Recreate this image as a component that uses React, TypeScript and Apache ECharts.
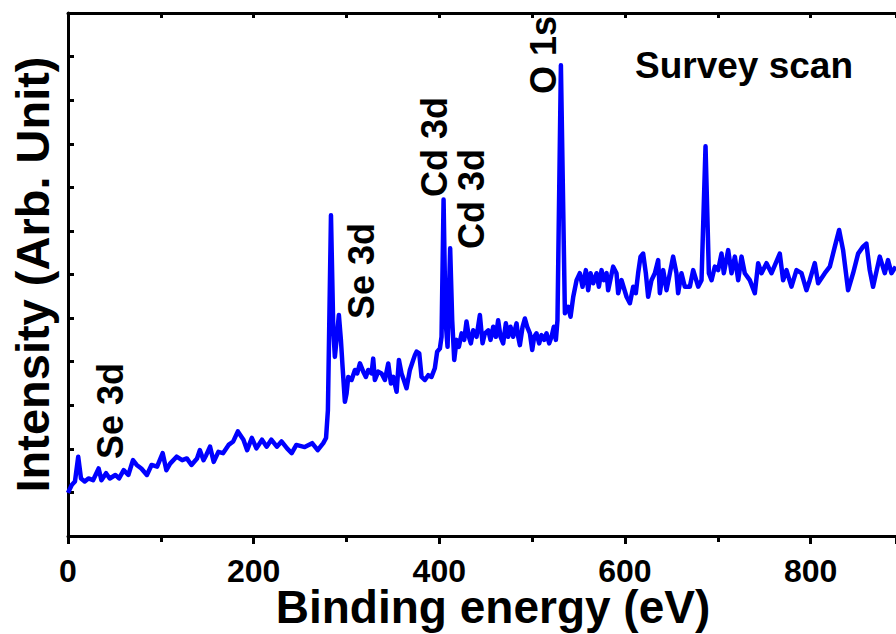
import React, { useEffect, useRef } from "react";
import * as echarts from "echarts";

// Binding energy (eV)
const energy: number[] = [
  0, 4, 7.5, 11, 14, 18, 22, 27, 33, 36, 41, 45, 51, 55, 60, 65, 70, 74, 79, 85,
  90, 96, 102, 106, 110, 117, 123, 128, 133, 139, 142, 146, 149, 153, 157, 162, 167, 173, 178, 183,
  189, 193, 198, 203, 209, 214, 219, 225, 230, 236, 241, 246, 255, 263, 269, 275, 278, 280,
  283.3, 285.8, 287.5, 289.3, 291.8, 294.0, 295.8, 298.3, 300.1, 301.9, 305.5, 309.1, 311.6, 314.5, 318.1, 320.9,
  323.4, 327.0, 328.8, 330.6, 334.2, 337.8, 341.4, 345.0, 347.9, 350.4, 354.0, 356.5, 359.3, 361.8, 364.7, 368.3,
  371.9, 373.7, 375.5, 378.4, 380.9, 384.5, 388.1, 391.6, 395.2, 397.7, 400.6, 402.4, 404.6, 406.7, 408.9, 411.7,
  413.9, 416.1, 418.6, 421.1, 424.0, 426.8, 429.3, 431.9, 434.0, 436.5, 440.1, 443.7, 446.6, 449.1, 452.7, 455.2,
  458.1, 460.9, 463.4, 466.0, 468.8, 471.7, 474.2, 476.7, 479.6, 483.2, 485.0, 486.8, 489.7, 492.2, 494.7, 497.6,
  500.1, 502.2, 504.7, 507.6, 510.1, 513.0, 515.5, 518.4, 520.9, 523.4, 525.6, 527.3, 531.0,
  535.3, 538.9, 541.4, 544.3, 547.9, 551.4, 554.3, 557.9, 560.4, 562.9, 565.8, 569.4, 571.9, 574.8, 577.3, 580.2,
  581.9, 587.3, 590.9, 592.7, 596.3, 601.7, 605.3, 608.9, 611.7, 614.2, 616.8, 619.6, 622.5, 625.0, 628.6, 632.2,
  635.8, 637.6, 641.2, 644.8, 651.9, 655.5, 657.3, 660.9, 664.5, 669.9, 673.5, 678.9, 682.5, 686.8, 690.4, 693.3,
  696.8, 700.4, 704.0, 706.5, 711.2, 714.8, 718.4, 722.0, 725.6, 729.1, 734.5, 739.9, 743.5, 747.1, 752.5, 757.9,
  766.8, 770.4, 774.0, 779.4, 784.8, 790.2, 795.5, 799.1, 804.5, 808.1, 815.3, 820.7, 826.1, 830.7, 835.0, 840.4,
  845.8, 851.2, 856.5, 860.1, 863.7, 867.3, 874.5, 879.9, 883.4, 887.1, 891.7
];

// Intensity (arb. units) at each binding energy above
const intensity: number[] = [
  0.99, 1.17, 1.25, 1.82, 1.32, 1.25, 1.32, 1.28, 1.55, 1.28, 1.44, 1.32, 1.40, 1.32, 1.51, 1.40, 1.74, 1.63, 1.55, 1.40,
  1.63, 1.59, 1.90, 1.51, 1.66, 1.82, 1.74, 1.78, 1.63, 1.78, 1.97, 1.74, 1.86, 2.05, 1.70, 1.93, 1.90, 2.09, 2.17, 2.40,
  2.21, 1.97, 2.25, 2.01, 2.21, 2.05, 2.21, 2.05, 2.17, 2.01, 1.90, 2.09, 2.04, 2.13, 1.97, 2.13, 2.25, 2.89,
  7.36, 4.72, 4.11, 4.50, 5.07, 4.50, 3.88, 3.08, 3.27, 3.65, 3.58, 3.81, 3.73, 3.96, 3.77, 3.65,
  3.81, 3.73, 4.07, 3.58, 3.77, 3.73, 3.58, 3.96, 3.50, 3.65, 3.31, 4.04, 3.73, 3.58, 3.39, 3.81,
  4.04, 4.15, 4.23, 4.19, 3.65, 3.58, 3.69, 3.65, 3.85, 4.23, 4.30, 4.57, 7.72, 4.95, 4.34, 6.60,
  4.95, 4.04, 4.50, 4.34, 4.65, 4.50, 4.92, 4.57, 4.42, 4.72, 4.57, 5.07, 4.42, 4.65, 4.72, 4.50,
  4.80, 4.57, 4.95, 4.57, 4.42, 4.88, 4.57, 4.80, 4.57, 4.88, 4.57, 4.38, 4.80, 4.99, 4.80, 4.65,
  4.27, 4.57, 4.65, 4.42, 4.61, 4.50, 4.65, 4.42, 4.57, 4.80, 4.50, 4.95, 10.80,
  5.11, 5.26, 5.03, 5.49, 5.87, 6.03, 5.72, 6.10, 5.64, 6.03, 5.80, 6.03, 5.72, 6.10, 5.87, 6.03,
  5.64, 6.18, 6.03, 5.57, 5.87, 5.49, 5.34, 5.72, 5.57, 6.03, 6.41, 6.48, 6.03, 5.49, 5.87, 6.03,
  6.33, 5.57, 6.10, 5.64, 6.41, 6.03, 5.57, 6.03, 5.72, 5.72, 6.10, 5.72, 5.87, 8.94, 6.03, 5.87,
  6.18, 6.10, 6.48, 6.03, 6.56, 6.03, 6.41, 5.87, 6.41, 6.03, 5.87, 5.57, 6.26, 6.03, 6.26, 6.03,
  6.48, 5.87, 6.10, 5.72, 6.10, 6.03, 5.64, 5.87, 6.26, 5.80, 6.03, 6.18, 6.64, 7.02, 6.56, 5.64,
  6.03, 6.48, 6.64, 6.71, 6.10, 5.72, 6.41, 6.03, 6.33, 6.03, 6.18
];

const xTickLabels: string[] = ["0", "200", "400", "600", "800"];

const FONT = "'Liberation Sans', Arial, sans-serif";

export default function App() {
  const ref = useRef<HTMLDivElement>(null);
  useEffect(() => {
    if (!ref.current) return;
    const chart = echarts.init(ref.current, null, { renderer: "svg" });
    const data = energy.map((e, i) => [e, intensity[i]]);
    const labelStyle = {
      font: `bold 36px ${FONT}`,
      fill: "#000",
      align: "center",
      verticalAlign: "middle",
    };
    chart.setOption({
      animation: false,
      backgroundColor: "#fff",
      grid: {
        left: 68,
        right: 0,
        top: 13,
        bottom: 98,
        containLabel: false,
        outerBoundsMode: "none",
      },
      xAxis: [
        {
          type: "value",
          position: "bottom",
          min: 0,
          max: 892,
          interval: 200,
          name: "Binding energy (eV)",
          nameLocation: "middle",
          nameGap: 49,
          nameMoveOverlap: false,
          nameTextStyle: {
            fontFamily: FONT,
            fontWeight: "bold",
            fontSize: 46,
            lineHeight: 44,
            color: "#000",
            padding: [0, 0, 0, 22],
          },
          axisLine: { show: true, lineStyle: { color: "#000", width: 3 } },
          axisTick: { show: true, inside: false, length: 8, lineStyle: { color: "#000", width: 3 } },
          minorTick: { show: true, splitNumber: 2, length: 6, lineStyle: { color: "#000", width: 3 } },
          axisLabel: {
            show: true,
            margin: 22,
            fontFamily: FONT,
            fontWeight: "bold",
            fontSize: 32,
            lineHeight: 26,
            color: "#000",
            formatter: (v: number) => {
              const s = String(Math.round(v));
              return xTickLabels.indexOf(s) >= 0 ? s : "";
            },
          },
          splitLine: { show: false },
          minorSplitLine: { show: false },
        },
        {
          type: "value",
          position: "top",
          min: 0,
          max: 892,
          interval: 100,
          axisLine: { show: true, lineStyle: { color: "#000", width: 3 } },
          axisTick: { show: true, inside: true, length: 5, lineStyle: { color: "#000", width: 3 } },
          axisLabel: { show: false },
          splitLine: { show: false },
        },
      ],
      yAxis: {
        type: "value",
        min: 0,
        max: 12,
        interval: 1,
        name: "Intensity (Arb. Unit)",
        nameLocation: "middle",
        nameGap: 12,
        nameRotate: 90,
        nameMoveOverlap: false,
        nameTextStyle: { fontFamily: FONT, fontWeight: "bold", fontSize: 47, color: "#000" },
        axisLine: { show: true, lineStyle: { color: "#000", width: 3 } },
        axisTick: { show: true, inside: true, length: 6, lineStyle: { color: "#000", width: 3 } },
        axisLabel: { show: false },
        splitLine: { show: false },
      },
      series: [
        {
          type: "line",
          data,
          xAxisIndex: 0,
          showSymbol: false,
          symbol: "none",
          lineStyle: { color: "#0000ff", width: 4.5, join: "round" },
          z: 3,
        },
      ],
      graphic: [
        { type: "text", x: 110, y: 411, rotation: Math.PI / 2, style: { ...labelStyle, text: "Se 3d" } },
        { type: "text", x: 361, y: 271, rotation: Math.PI / 2, style: { ...labelStyle, text: "Se 3d" } },
        { type: "text", x: 434, y: 147, rotation: Math.PI / 2, style: { ...labelStyle, text: "Cd 3d" } },
        { type: "text", x: 471, y: 199, rotation: Math.PI / 2, style: { ...labelStyle, text: "Cd 3d" } },
        { type: "text", x: 543, y: 55, rotation: Math.PI / 2, style: { ...labelStyle, text: "O 1s" } },
        { type: "text", x: 744, y: 65, style: { ...labelStyle, font: `bold 37px ${FONT}`, text: "Survey scan" } },
      ],
    });
    return () => chart.dispose();
  }, []);
  return <div ref={ref} style={{ width: 896, height: 634, position: "absolute", left: 0, top: 0 }} />;
}
